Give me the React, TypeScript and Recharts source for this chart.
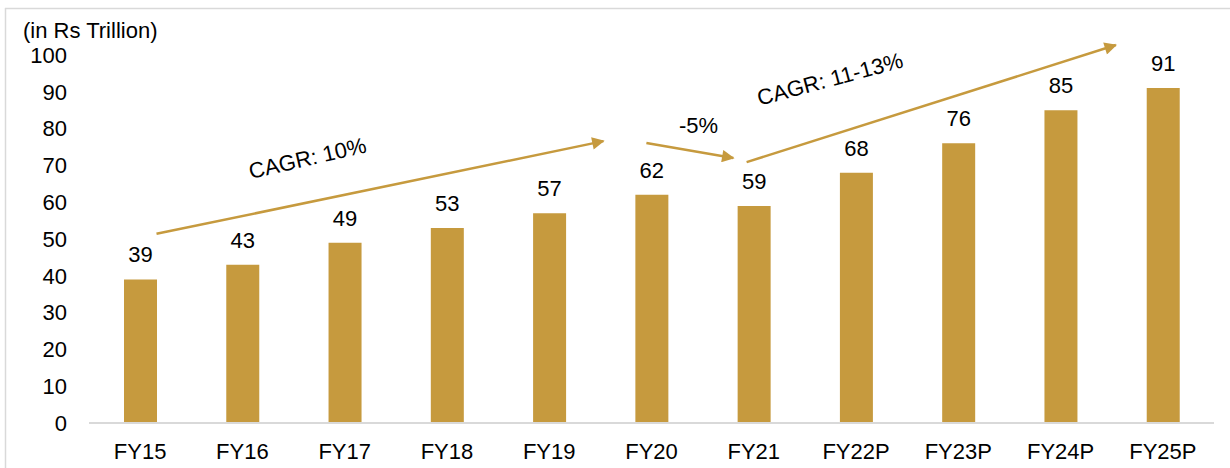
import React from "react";
import { BarChart, Bar, XAxis, YAxis, LabelList } from "recharts";

const years = ["FY15", "FY16", "FY17", "FY18", "FY19", "FY20", "FY21", "FY22P", "FY23P", "FY24P", "FY25P"];
const spending = [39, 43, 49, 53, 57, 62, 59, 68, 76, 85, 91];
const yTicks = [0, 10, 20, 30, 40, 50, 60, 70, 80, 90, 100];

// annotation arrows in (category index, value) terms
const arrows = [
  { from: [0.16, 51.4], to: [4.53, 76.6] },
  { from: [4.95, 76.1], to: [5.8, 72.0] },
  { from: [5.93, 70.9], to: [9.54, 102.7] },
];
const notes = [
  { text: "CAGR: 10%", at: [1.64, 71.5], angle: -13 },
  { text: "-5%", at: [5.46, 80.5], angle: 0 },
  { text: "CAGR: 11-13%", at: [6.75, 93], angle: -15 },
];

const data = years.map((year, i) => ({ year, value: spending[i] }));

const W = 1230;
const H = 468;
const margin = { top: 55, right: 16, left: 0, bottom: 0 };
const yAxisWidth = 89;
const xAxisHeight = 45;
const gold = "#C69A3E";
const font = "'Liberation Sans', Arial, sans-serif";

const plotLeft = margin.left + yAxisWidth;
const plotRight = W - margin.right;
const plotTop = margin.top;
const plotBottom = H - margin.bottom - xAxisHeight;
const band = (plotRight - plotLeft) / years.length;
const px = (i: number) => plotLeft + (i + 0.5) * band;
const py = (v: number) => plotBottom - (v / 100) * (plotBottom - plotTop);

function Annotations() {
  return (
    <svg
      width={W}
      height={H}
      style={{ position: "absolute", left: 0, top: 0, pointerEvents: "none" }}
    >
      <defs>
        <marker
          id="head"
          viewBox="0 0 10 10"
          refX="9"
          refY="5"
          markerWidth="6"
          markerHeight="5"
          orient="auto"
          markerUnits="strokeWidth"
        >
          <path d="M0,0 L10,5 L0,10 z" fill={gold} />
        </marker>
      </defs>
      <line x1={5} y1={8.5} x2={W} y2={8.5} stroke="#d9d9d9" strokeWidth={1.5} />
      <line x1={5.5} y1={8} x2={5.5} y2={H} stroke="#d9d9d9" strokeWidth={1.5} />
      <text x={23} y={38} fontFamily={font} fontSize={22} fill="#000">
        (in Rs Trillion)
      </text>
      {arrows.map((a, k) => (
        <line
          key={k}
          x1={px(a.from[0])}
          y1={py(a.from[1])}
          x2={px(a.to[0])}
          y2={py(a.to[1])}
          stroke={gold}
          strokeWidth={2.5}
          markerEnd="url(#head)"
        />
      ))}
      {notes.map((n, k) => (
        <text
          key={k}
          x={px(n.at[0])}
          y={py(n.at[1])}
          textAnchor="middle"
          dominantBaseline="middle"
          fontFamily={font}
          fontSize={22}
          fill="#000"
          transform={`rotate(${n.angle} ${px(n.at[0])} ${py(n.at[1])})`}
        >
          {n.text}
        </text>
      ))}
    </svg>
  );
}

export default function App() {
  return (
    <div style={{ position: "absolute", left: 0, top: 0, width: W, height: H, background: "#fff" }}>
      <BarChart width={W} height={H} data={data} margin={margin}>
        <XAxis
          dataKey="year"
          height={xAxisHeight}
          axisLine={{ stroke: "#d9d9d9", strokeWidth: 2 }}
          tickLine={false}
          tickSize={0}
          tickMargin={20}
          interval={0}
          tick={{ fill: "#000", fontSize: 22, fontFamily: font }}
        />
        <YAxis
          width={yAxisWidth}
          domain={[0, 100]}
          ticks={yTicks}
          interval={0}
          axisLine={false}
          tickLine={false}
          tickSize={0}
          tickMargin={22}
          tick={{ fill: "#000", fontSize: 22, fontFamily: font }}
        />
        <Bar dataKey="value" fill={gold} barSize={33} isAnimationActive={false}>
          <LabelList
            dataKey="value"
            position="top"
            offset={17}
            fill="#000"
            fontSize={22}
            fontFamily={font}
          />
        </Bar>
      </BarChart>
      <Annotations />
    </div>
  );
}
